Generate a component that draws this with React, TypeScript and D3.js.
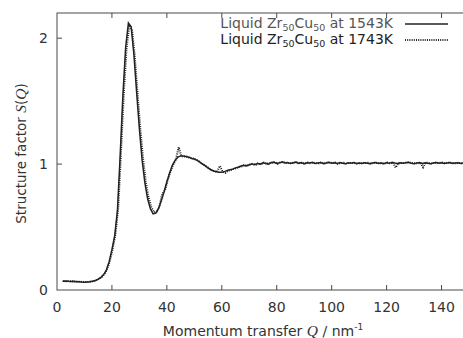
import * as d3 from 'd3'

// Momentum transfer grid (nm^-1)
const qGrid = d3.range(2, 151)

// S(Q) of liquid Zr50Cu50 at 1543 K
const s1543 = [
  0.070, 0.071, 0.069, 0.068, 0.070, 0.066, 0.065, 0.063, 0.062, 0.064, 0.066, 0.070, 0.076,
  0.086, 0.100, 0.122, 0.160, 0.225, 0.320, 0.430, 0.630, 1.070, 1.550, 1.930,
  2.120, 2.090, 1.870, 1.570, 1.280, 1.030, 0.850, 0.725, 0.645, 0.605,
  0.610, 0.650, 0.710, 0.780, 0.860, 0.930, 0.990, 1.030, 1.055, 1.065,
  1.065, 1.060, 1.055, 1.045, 1.040, 1.030, 1.015, 1.000, 0.985, 0.970,
  0.955, 0.945, 0.940, 0.935, 0.935, 0.940, 0.950, 0.955, 0.960, 0.970,
  0.975, 0.985, 0.990, 0.985, 0.995, 1.000, 0.995, 1.005, 1.000, 1.010,
  1.005, 1.000, 1.012, 1.015, 1.005, 1.010, 1.018, 1.008, 1.012, 1.004,
  1.010, 1.016, 1.006, 1.012, 1.002, 1.010, 1.008, 1.014, 1.004, 1.009,
  1.012, 1.003, 1.008, 1.015, 1.006, 1.010, 1.004, 1.012, 1.007, 1.002,
  1.010, 1.006, 1.013, 1.003, 1.009, 1.005, 1.011, 1.007, 1.002, 1.008,
  1.012, 1.005, 1.009, 1.003, 1.010, 1.006, 1.014, 1.008, 1.004, 1.011,
  1.006, 1.010, 1.015, 1.007, 1.003, 1.009, 1.012, 1.005, 1.010, 1.006,
  1.002, 1.008, 1.013, 1.006, 1.010, 1.004, 1.009, 1.012, 1.005, 1.008,
  1.011, 1.004, 1.009, 1.006, 1.010,
]

// S(Q) of liquid Zr50Cu50 at 1743 K
const s1743 = [
  0.072, 0.070, 0.071, 0.069, 0.068, 0.067, 0.066, 0.064, 0.063, 0.063, 0.067, 0.071, 0.078,
  0.088, 0.104, 0.128, 0.168, 0.235, 0.330, 0.445, 0.650, 1.090, 1.550, 1.910,
  2.100, 2.070, 1.860, 1.570, 1.290, 1.050, 0.865, 0.740, 0.660, 0.618,
  0.622, 0.660, 0.765, 0.790, 0.870, 0.940, 0.995, 1.035, 1.135, 1.062,
  1.060, 1.058, 1.050, 1.048, 1.038, 1.028, 1.012, 0.998, 0.982, 0.968,
  0.952, 0.944, 0.938, 0.985, 0.940, 0.930, 0.948, 0.953, 0.962, 0.968,
  0.978, 0.982, 0.992, 0.988, 0.997, 1.003, 0.993, 1.008, 0.998, 1.012,
  1.003, 1.006, 1.010, 1.018, 1.002, 1.013, 1.015, 1.010, 1.009, 1.007,
  1.013, 1.012, 1.009, 1.010, 1.005, 1.013, 1.006, 1.011, 1.008, 1.006,
  1.014, 1.005, 1.011, 1.012, 1.008, 1.013, 1.002, 1.009, 1.010, 1.004,
  1.008, 1.009, 1.010, 1.006, 1.007, 1.008, 1.009, 1.010, 1.004, 1.010,
  1.010, 1.008, 1.006, 1.005, 1.012, 1.004, 1.012, 0.972, 1.006, 1.009,
  1.008, 1.012, 1.012, 1.009, 1.006, 1.006, 1.010, 0.975, 1.012, 1.009,
  1.005, 1.010, 1.010, 1.009, 1.012, 1.006, 1.011, 1.010, 1.008, 1.006,
  1.009, 1.006, 1.011, 1.008, 1.007,
]

const xTicks = [0, 20, 40, 60, 80, 100, 120, 140]
const yTicks = [0, 1, 2]
const legendTemps = ['1543K', '1743K']

const W = 463
const H = 338
const left = 57
const right = 469
const top = 13
const bottom = 290
const font = '"DejaVu Sans", Verdana, sans-serif'
const italicFont = '"Liberation Serif", "DejaVu Serif", serif'
const axisColor = '#4a4a4a'
const textColor = '#333'

export default function App() {
  const x = d3.scaleLinear().domain([0, 150]).range([left, right])
  const y = d3.scaleLinear().domain([0, 2.2]).range([bottom, top])

  const line = d3
    .line<number>()
    .x((_, i) => x(qGrid[i]))
    .y((d) => y(d))

  const tick = 5

  return (
    <svg
      width={W}
      height={H}
      style={{ position: 'absolute', left: 0, top: 0, background: '#fff' }}
      fontFamily={font}
    >
      <defs>
        <clipPath id="plot">
          <rect x={left} y={top} width={right - left} height={bottom - top} />
        </clipPath>
      </defs>

      {/* frame */}
      <rect
        x={left}
        y={top}
        width={right - left}
        height={bottom - top}
        fill="none"
        stroke={axisColor}
        strokeWidth={1}
      />

      {/* x ticks, bottom and top */}
      {xTicks.map((t) => (
        <g key={'x' + t}>
          {t > 0 && (
            <>
              <line x1={x(t)} x2={x(t)} y1={bottom} y2={bottom - tick} stroke={axisColor} />
              <line x1={x(t)} x2={x(t)} y1={top} y2={top + tick} stroke={axisColor} />
            </>
          )}
          <text x={x(t)} y={312} textAnchor="middle" fontSize={14} fill={textColor}>
            {t}
          </text>
        </g>
      ))}

      {/* y ticks */}
      {yTicks.map((t) => (
        <g key={'y' + t}>
          {t > 0 && <line x1={left} x2={left + tick} y1={y(t)} y2={y(t)} stroke={axisColor} />}
          <text x={48} y={y(t) + 5} textAnchor="end" fontSize={14} fill={textColor}>
            {t}
          </text>
        </g>
      ))}

      {/* curves */}
      <g clipPath="url(#plot)" fill="none">
        <path d={line(s1543) ?? ''} stroke="#222" strokeWidth={1.5} />
        <path
          d={line(s1743) ?? ''}
          stroke="#222"
          strokeWidth={2}
          strokeDasharray="1,1.2"
          transform="translate(0.8,0)"
        />
      </g>

      {/* legend */}
      {legendTemps.map((temp, i) => {
        const ly = 28 + i * 16
        return (
          <g key={temp}>
            <text x={393} y={ly} textAnchor="end" fontSize={14} fill={i === 0 ? '#555' : '#222'}>
              Liquid Zr
              <tspan fontSize={9.5} dy={3}>50</tspan>
              <tspan dy={-3}>Cu</tspan>
              <tspan fontSize={9.5} dy={3}>50</tspan>
              <tspan dy={-3}> at {temp}</tspan>
            </text>
            <line
              x1={405}
              x2={448}
              y1={ly - 4}
              y2={ly - 4}
              stroke="#222"
              strokeWidth={i === 0 ? 1.5 : 2}
              strokeDasharray={i === 0 ? undefined : '1,1.2'}
            />
          </g>
        )
      })}

      {/* axis titles */}
      <text x={263} y={336} textAnchor="middle" fontSize={14} fill={textColor}>
        Momentum transfer{' '}
        <tspan fontStyle="italic" fontFamily={italicFont} fontSize={15.5}>Q</tspan> / nm
        <tspan fontSize={9} dy={-6}>-1</tspan>
      </text>
      <text
        transform={`translate(26,${(top + bottom) / 2 + 2}) rotate(-90)`}
        textAnchor="middle"
        fontSize={13.5}
        fill={textColor}
      >
        Structure factor{' '}
        <tspan fontStyle="italic" fontFamily={italicFont} fontSize={15.5}>S</tspan>(
        <tspan fontStyle="italic" fontFamily={italicFont} fontSize={15.5}>Q</tspan>)
      </text>
    </svg>
  )
}
